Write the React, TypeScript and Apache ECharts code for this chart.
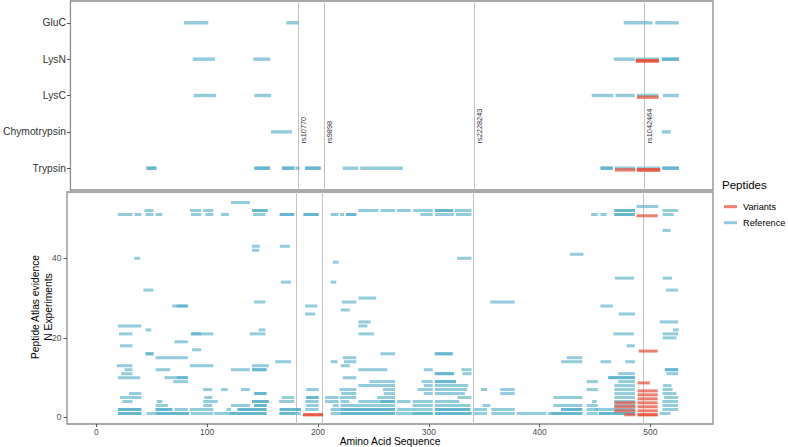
import React, { useEffect, useRef } from "react";
import * as echarts from "echarts";

const enzymes = ["Trypsin", "Chymotrypsin", "LysC", "LysN", "GluC"];
const xTicks = [0, 100, 200, 300, 400, 500];
const yTicksBottom = [0, 20, 40];
const snpNames = ["rs10770", "rs9898", "rs2228243", "rs1042464"];
const snpPositions = [180, 203.6, 340, 493.5];
const legendItems = ["Variants", "Reference"];

// top panel: [start, end, enzyme (1 = Trypsin ... 5 = GluC)]
const topReference: number[][] = [
  [76, 99, 5], [169, 181, 5], [475, 502, 5], [503.6, 526, 5],
  [84, 105, 4], [139, 155, 4], [466, 486, 4], [486, 508, 4], [509.6, 526, 4], [509.6, 526, 4],
  [85, 106, 3], [140, 156, 3], [446, 466.6, 3], [467.5, 486, 3], [487, 507.5, 3], [510.5, 526, 3],
  [155, 175, 2], [509.6, 518.6, 2],
  [42, 52, 1], [42, 52, 1], [140, 155, 1], [140, 155, 1], [165, 177, 1], [165, 177, 1], [177, 182, 1],
  [186, 201, 1], [186, 201, 1], [220, 235, 1], [236, 275.5, 1], [454, 466, 1], [454, 466, 1],
  [467, 486.5, 1], [487, 509, 1], [510, 526, 1], [510, 526, 1],
];
const topVariants: number[][] = [
  [486, 508, 4], [486, 508, 4], [487, 507.5, 3], [467, 486.5, 1], [487, 509, 1], [487, 509, 1],
];

// bottom panel: [start, end, N experiments]
const bottomReference: number[][] = [
  [121, 139, 54],
  [487, 507.5, 53],
  [43, 52, 52], [84, 95, 52], [96, 106, 52], [140, 155, 52], [140, 155, 52], [236, 255, 52], [256, 270, 52],
  [271, 284, 52], [285.5, 304, 52], [305, 322.5, 52], [305, 322.5, 52], [323, 339, 52], [467, 486.5, 52],
  [467, 486.5, 52], [510.5, 525.5, 52],
  [19, 33, 51], [34, 41, 51], [44, 52, 51], [53, 60, 51], [85, 95, 51], [98, 106, 51], [112, 120, 51],
  [141, 153, 51], [165, 179, 51], [165, 179, 51], [186.5, 201, 51], [186.5, 201, 51], [211, 219, 51],
  [219.5, 224, 51], [225, 235, 51], [225, 235, 51], [292, 304, 51], [305, 323, 51], [324, 339, 51],
  [446, 453, 51], [454.5, 461, 51], [467, 486.5, 51], [467, 486.5, 51], [510.5, 521.5, 51],
  [510.5, 518.6, 47],
  [140, 148, 43], [165, 175, 43],
  [140, 147.5, 42],
  [427, 440, 41],
  [33.7, 40, 40], [325, 339, 40],
  [213, 219, 39],
  [467.5, 485.6, 35], [510.5, 520, 35],
  [166, 176, 34], [211, 217, 34],
  [42, 52, 32], [513.5, 525.5, 32],
  [236, 253, 30],
  [142, 153, 29], [221, 235, 29], [355, 378, 29],
  [68, 83, 28], [72, 83, 28], [188, 200, 28], [454.5, 466.6, 28],
  [220, 229, 27],
  [188, 198, 26], [471, 486.5, 26],
  [236, 248, 24], [508, 525.5, 24],
  [19, 41, 23], [236, 245, 23],
  [44, 50, 22], [146, 153, 22], [520, 526, 22],
  [20, 33, 21], [85, 106, 21], [85, 95, 21], [138, 153, 21], [236, 251, 21], [466, 485.6, 21], [510.5, 525.5, 21],
  [510.5, 524, 20],
  [70, 83, 19],
  [21, 33, 18], [478, 486.5, 18],
  [86, 95, 17],
  [44, 52, 16], [44, 52, 16], [256, 270, 16], [305, 322, 16], [305, 322, 16],
  [53, 83, 15], [222, 235, 15], [424, 439, 15],
  [161, 176, 14], [211, 218, 14], [223, 235, 14], [419, 439, 14], [454.5, 465, 14], [477, 486.5, 14],
  [18, 33, 13], [84, 106, 13], [140, 156, 13], [220, 229, 13],
  [25, 33, 12], [53, 67, 12], [121, 139, 12], [140, 154, 12], [140, 154, 12], [236, 263, 12], [295, 304, 12],
  [329, 339, 12], [512.6, 525.5, 12], [512.6, 525.5, 12],
  [22, 33, 11], [305, 323, 11], [305, 323, 11], [330, 339, 11], [470.5, 486.5, 11], [514, 525.5, 11],
  [19, 40, 10], [61, 83, 10], [72, 83, 10], [222, 235, 10], [461.5, 486.5, 10], [461.5, 486.5, 10],
  [69, 83, 9], [246, 270, 9], [293, 304, 9], [305, 325, 9], [305, 325, 9], [442, 453, 9], [470.5, 486.5, 9],
  [236, 270, 8], [295, 304, 8], [305, 336, 8], [467, 486.5, 8], [511, 519.5, 8],
  [96, 105, 7], [112, 119, 7], [130, 139, 7], [189, 201, 7], [219, 235, 7], [258, 270, 7], [289.5, 304, 7],
  [305, 335, 7], [346.6, 353, 7], [364, 378, 7], [442, 453, 7], [467, 486.5, 7], [510.5, 520.5, 7],
  [29, 41, 6], [142, 154, 6], [142, 154, 6], [220.6, 235, 6], [259, 270, 6], [295, 304, 6], [305, 333, 6],
  [364, 378, 6], [467, 486.5, 6], [510.5, 524, 6],
  [21, 41, 5], [97, 105, 5], [167, 179, 5], [189, 201, 5], [189, 201, 5], [206, 219, 5], [219, 235, 5],
  [253, 270, 5], [325.5, 339, 5], [412, 439, 5], [467, 486.5, 5], [512, 525.5, 5],
  [23, 33, 4], [54, 60, 4], [96, 110, 4], [140, 156, 4], [140, 156, 4], [164.5, 179, 4], [188, 201, 4],
  [206, 219, 4], [220, 228.6, 4], [236, 270, 4], [256, 270, 4], [271, 284, 4], [285, 304, 4], [305, 328, 4],
  [447, 452, 4], [467, 486.5, 4], [510.5, 525.5, 4],
  [53, 65, 3], [96, 105, 3], [121, 139, 3], [142, 154, 3], [142, 154, 3], [189, 201, 3], [213, 219, 3],
  [220, 270, 3], [285, 304, 3], [305, 338, 3], [348, 356, 3], [412, 439, 3], [442, 453, 3], [467, 486.5, 3],
  [510.5, 525.5, 3],
  [19, 41, 2], [19, 41, 2], [53, 69, 2], [53, 69, 2], [70, 83, 2], [84, 106, 2], [117, 122, 2], [127, 154, 2],
  [127, 154, 2], [165, 185, 2], [165, 185, 2], [188, 201, 2], [211, 270, 2], [220, 270, 2], [271, 284, 2],
  [283, 304, 2], [305, 338, 2], [305, 338, 2], [340.5, 353, 2], [356, 378, 2], [419, 439, 2], [419, 439, 2],
  [442, 453, 2], [450, 486.5, 2], [510.5, 525.5, 2],
  [19, 41, 1], [19, 41, 1], [45, 84, 1], [53, 84, 1], [85, 106, 1], [106, 154, 1], [120, 154, 1],
  [164.5, 185, 1], [165, 180, 1], [211, 270, 1], [220, 270, 1], [270, 304, 1], [285, 304, 1], [305, 339, 1],
  [305, 339, 1], [340.5, 353, 1], [356, 378, 1], [379, 406.7, 1], [407, 439, 1], [410, 439, 1], [442, 453, 1],
  [453, 486.5, 1], [453, 486.5, 1], [508, 518.6, 1],
];
const bottomVariants: number[][] = [
  [186, 205, 1], [186, 205, 1],
  [476, 487, 1], [488, 507, 1], [488, 507, 1],
  [467, 487, 2], [488, 507, 2],
  [467, 487, 3], [488, 507, 3],
  [467, 487, 4], [488, 507, 4],
  [488, 507, 5], [488, 507, 6], [488, 507, 7], [488, 500, 9],
  [489, 507, 17], [487, 507, 51],
];

const FONT = "'Liberation Sans', Arial, Helvetica, sans-serif";
const REF_COLOR = "rgba(72,169,197,0.6)";
const VAR_COLOR = "rgba(230,75,53,0.7)";
const LEGEND_COLORS = [VAR_COLOR, REF_COLOR];
const AXIS_TEXT = "#4D4D4D";
const BORDER = "#8C8C8C";

const segRender = (color: string, h: number, dy: number) => (params: any, api: any) => {
  const s = api.coord([api.value(0), api.value(2)]);
  const e = api.coord([api.value(1), api.value(2)]);
  return {
    type: "rect",
    shape: { x: s[0] + 0.5, y: s[1] - h / 2 + dy, width: Math.max(e[0] - s[0] - 1, 1), height: h },
    style: { fill: color },
  };
};

const vlineRender = (withLabel: boolean) => (params: any, api: any) => {
  const cs = params.coordSys;
  const p = api.coord([api.value(0), withLabel ? 1.68 : 0]);
  const x = Math.round(p[0]) + 0.5;
  const children: any[] = [
    { type: "line", shape: { x1: x, y1: cs.y, x2: x, y2: cs.y + cs.height }, style: { stroke: "#C2C2C2", lineWidth: 1 } },
  ];
  if (withLabel) {
    children.push({
      type: "text",
      x: x + 4.5,
      y: p[1],
      rotation: Math.PI / 2,
      style: { text: snpNames[params.dataIndex], align: "left", verticalAlign: "middle", fontSize: 7.4, fill: "#333333", fontFamily: FONT },
    });
  }
  return { type: "group", children };
};

export default function App() {
  const ref = useRef<HTMLDivElement>(null);
  useEffect(() => {
    if (!ref.current) return;
    const chart = echarts.init(ref.current, null, { renderer: "svg" });
    const snpData = snpPositions.map((p, i) => [p, i]);
    const hiddenLine = { show: false, onZero: false };
    const option: any = {
      animation: false,
      backgroundColor: "#ffffff",
      grid: [
        { left: 67, top: 1, width: 646, height: 189, show: true, borderColor: BORDER, borderWidth: 1.3, backgroundColor: "transparent" },
        { left: 67, top: 192, width: 646, height: 232, show: true, borderColor: BORDER, borderWidth: 1.3, backgroundColor: "transparent" },
      ],
      xAxis: [
        {
          type: "value", gridIndex: 0, min: -26.5, max: 556.5, position: "bottom",
          axisLine: hiddenLine, axisTick: { show: false }, axisLabel: { show: false }, splitLine: { show: false },
        },
        {
          type: "value", gridIndex: 1, min: -26.5, max: 556.5, position: "bottom",
          axisLine: hiddenLine, splitLine: { show: false },
          axisTick: { show: true, length: 3, customValues: xTicks, lineStyle: { color: "#555555" } },
          axisLabel: { show: true, customValues: xTicks, fontSize: 8.5, color: AXIS_TEXT, fontFamily: FONT, margin: 3 },
        },
      ],
      yAxis: [
        {
          type: "value", gridIndex: 0, min: 0.4, max: 5.6, position: "left",
          axisLine: hiddenLine, splitLine: { show: false },
          axisTick: { show: true, length: 3.5, customValues: [1, 2, 3, 4, 5], lineStyle: { color: "#555555" } },
          axisLabel: {
            show: true, customValues: [1, 2, 3, 4, 5], fontSize: 10.3, color: "#333333", fontFamily: FONT, margin: 4.5,
            formatter: (v: number) => enzymes[Math.round(v) - 1] ?? "",
          },
        },
        {
          type: "value", gridIndex: 1, min: -1.65, max: 56.65, position: "left",
          axisLine: hiddenLine, splitLine: { show: false },
          axisTick: { show: true, length: 3.5, customValues: yTicksBottom, lineStyle: { color: "#555555" } },
          axisLabel: { show: true, customValues: yTicksBottom, fontSize: 8.5, color: AXIS_TEXT, fontFamily: FONT, margin: 5.5 },
        },
      ],
      series: [
        { type: "custom", xAxisIndex: 0, yAxisIndex: 0, data: snpData, encode: { x: 0 }, renderItem: vlineRender(true), z: 1, silent: true },
        { type: "custom", xAxisIndex: 1, yAxisIndex: 1, data: snpData, encode: { x: 0 }, renderItem: vlineRender(false), z: 1, silent: true },
        { type: "custom", xAxisIndex: 0, yAxisIndex: 0, data: topReference, encode: { x: [0, 1], y: 2 }, renderItem: segRender(REF_COLOR, 3.4, 0), z: 2, clip: true },
        { type: "custom", xAxisIndex: 0, yAxisIndex: 0, data: topVariants, encode: { x: [0, 1], y: 2 }, renderItem: segRender(VAR_COLOR, 3.4, 1.7), z: 3, clip: true },
        { type: "custom", xAxisIndex: 1, yAxisIndex: 1, data: bottomReference, encode: { x: [0, 1], y: 2 }, renderItem: segRender(REF_COLOR, 3, 0), z: 2, clip: true },
        { type: "custom", xAxisIndex: 1, yAxisIndex: 1, data: bottomVariants, encode: { x: [0, 1], y: 2 }, renderItem: segRender(VAR_COLOR, 3, 1.3), z: 3, clip: true },
      ],
      graphic: [
        {
          type: "text", x: 390, y: 441.5,
          style: { text: "Amino Acid Sequence", fontSize: 10.3, fill: "#000000", align: "center", verticalAlign: "middle", fontFamily: FONT },
        },
        {
          type: "text", x: 42, y: 307, rotation: Math.PI / 2,
          style: { text: "Peptide Atlas evidence\nN Experiments", fontSize: 10.3, lineHeight: 13.5, fill: "#000000", align: "center", verticalAlign: "middle", fontFamily: FONT },
        },
        {
          type: "text", x: 722, y: 185,
          style: { text: "Peptides", fontSize: 11.5, fill: "#000000", align: "left", verticalAlign: "middle", fontFamily: FONT },
        },
        ...legendItems.flatMap((name, i) => {
          const y = 206.7 + i * 16;
          return [
            { type: "line", shape: { x1: 724, y1: y, x2: 737, y2: y }, style: { stroke: LEGEND_COLORS[i], lineWidth: 3 } },
            { type: "text", x: 743, y, style: { text: name, fontSize: 9.2, fill: "#000000", align: "left", verticalAlign: "middle", fontFamily: FONT } },
          ];
        }),
      ],
    };
    chart.setOption(option);
    return () => chart.dispose();
  }, []);
  return <div ref={ref} style={{ position: "fixed", left: 0, top: 0, width: 788, height: 447 }} />;
}
